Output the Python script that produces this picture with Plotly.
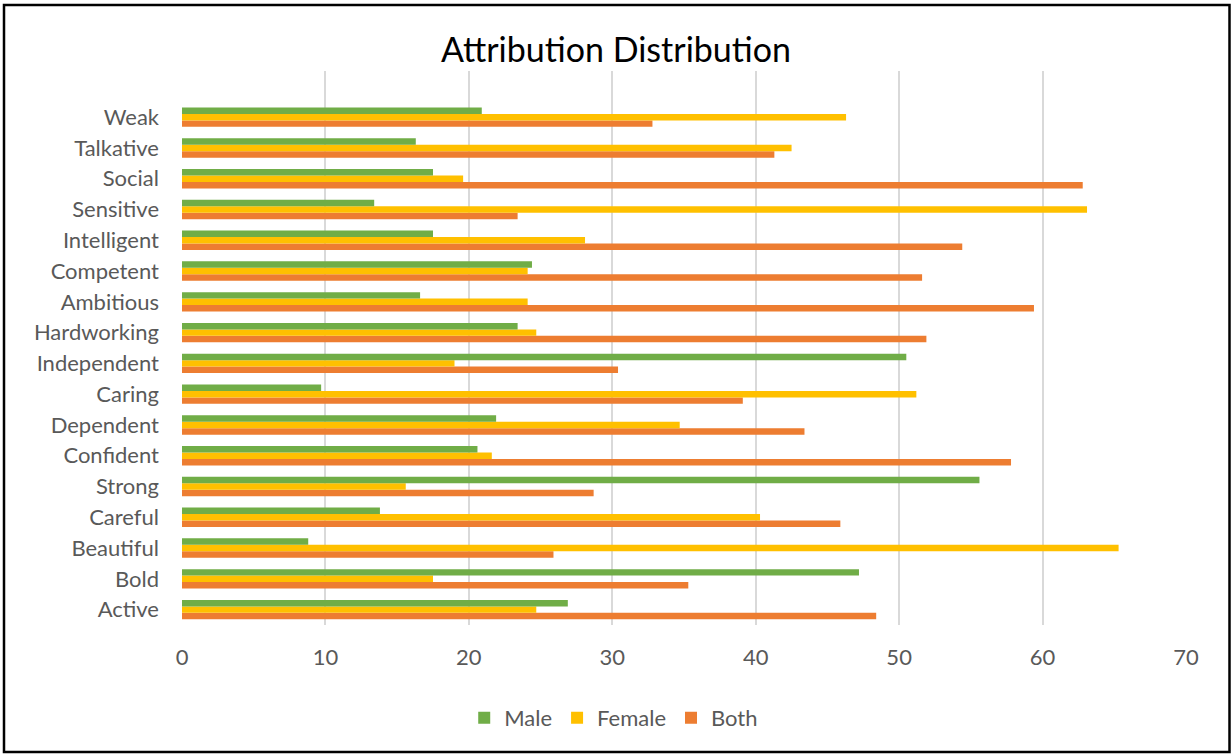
import plotly.graph_objects as go

# Traits, listed from the bottom of the chart to the top
traits = ["Active", "Bold", "Beautiful", "Careful", "Strong", "Confident",
          "Dependent", "Caring", "Independent", "Hardworking", "Ambitious",
          "Competent", "Intelligent", "Sensitive", "Social", "Talkative", "Weak"]

male = [26.9, 47.2, 8.8, 13.8, 55.6, 20.6, 21.9, 9.7, 50.5, 23.4, 16.6,
        24.4, 17.5, 13.4, 17.5, 16.3, 20.9]
female = [24.7, 17.5, 65.3, 40.3, 15.6, 21.6, 34.7, 51.2, 19.0, 24.7, 24.1,
          24.1, 28.1, 63.1, 19.6, 42.5, 46.3]
both = [48.4, 35.3, 25.9, 45.9, 28.7, 57.8, 43.4, 39.1, 30.4, 51.9, 59.4,
        51.6, 54.4, 23.4, 62.8, 41.3, 32.8]

x_ticks = [0, 10, 20, 30, 40, 50, 60, 70]

GREEN = "#70AD47"
YELLOW = "#FFC000"
ORANGE = "#ED7D31"
TEXT = "#595959"
FONT = "Lato"

fig = go.Figure()
# Added bottom-to-top within each group so Male sits on top, Both at the bottom
for name, vals, color, rank in [("Both", both, ORANGE, 3),
                                ("Female", female, YELLOW, 2),
                                ("Male", male, GREEN, 1)]:
    fig.add_trace(go.Bar(
        y=traits, x=vals, name=name, orientation="h",
        marker=dict(color=color, line=dict(width=0)),
        legendrank=rank,
    ))

fig.update_layout(
    width=1232, height=755,
    margin=dict(l=182, r=46, t=71, b=130),
    paper_bgcolor="white", plot_bgcolor="white",
    barmode="group", bargap=0.37, bargroupgap=0,
    font=dict(family=FONT, color=TEXT, size=22),
    title=dict(text="Attribution Distribution", x=0.5, xanchor="center",
               y=1 - 50 / 755, yanchor="middle", yref="container",
               font=dict(family=FONT, size=34, color="#000000")),
    legend=dict(orientation="h", x=0.43, xanchor="center", y=-0.168,
                yanchor="middle", font=dict(size=22, color=TEXT),
                itemwidth=30, tracegroupgap=0),
    showlegend=True,
)

fig.update_xaxes(
    range=[0, 70], tickvals=x_ticks, ticktext=[str(v) for v in x_ticks],
    showgrid=True, gridcolor="#D9D9D9", gridwidth=1.5,
    zeroline=False, showline=False, ticks="",
    ticklabelstandoff=17, tickfont=dict(size=22, color=TEXT),
)
fig.update_yaxes(
    type="category", categoryorder="array", categoryarray=traits,
    range=[-0.5, len(traits) + 0.5],
    showgrid=False, zeroline=False, showline=False, ticks="",
    ticklabelstandoff=22, tickfont=dict(size=22, color=TEXT),
)

# Chart border
fig.add_shape(type="rect", xref="paper", yref="paper",
              x0=(4 - 182) / 1004, x1=(1229.5 - 182) / 1004,
              y0=(625 - 752) / 554, y1=(625 - 5) / 554,
              line=dict(color="black", width=2.5), layer="above")

fig.write_html("out.html")
